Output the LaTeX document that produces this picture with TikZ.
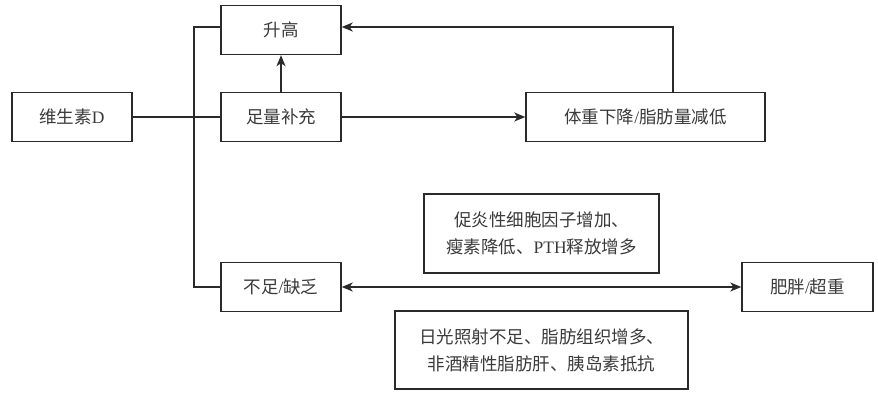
\documentclass[tikz,border=0pt]{standalone}
\usepackage{fontspec}
\setmainfont{Liberation Serif}
\newfontfamily\cjk{Noto Sans CJK SC}[Scale=1]
\newcommand{\lat}[1]{{\rmfamily #1}}
\usetikzlibrary{arrows.meta}
\definecolor{ln}{HTML}{2A2A2A}
\definecolor{tx}{HTML}{3A3A3A}
\tikzset{
  box/.style={draw=ln, line width=1.4pt, minimum height=49pt, inner sep=0pt, font=\cjk\fontsize{17.5}{27}\selectfont, text=tx, align=center},
  conn/.style={draw=ln, line width=1.4pt},
  arr/.style={conn, -{Stealth[length=11pt, width=9pt, inset=3pt]}},
  darr/.style={conn, {Stealth[length=11pt, width=9pt, inset=3pt]}-{Stealth[length=11pt, width=9pt, inset=3pt]}}
}
\begin{document}
\begin{tikzpicture}[x=1pt,y=-1pt]
\useasboundingbox (0,0) rectangle (878,413);
\node[box, minimum width=120pt] (vd) at (72,117) {维生素\lat{D}};
\node[box, minimum width=120pt] (sg) at (281,30) {升高};
\node[box, minimum width=120pt] (zl) at (281,117) {足量补充};
\node[box, minimum width=239pt] (tz) at (645.5,117) {体重下降\lat{/}脂肪量减低};
\node[box, minimum width=120pt] (bz) at (281,287) {不足\lat{/}缺乏};
\node[box, minimum width=131pt] (fp) at (807.5,287) {肥胖\lat{/}超重};
\node[box, minimum width=235pt, minimum height=79pt] (cy) at (541.5,233.5) {促炎性细胞因子增加、\\瘦素降低、\lat{PTH}释放增多};
\node[box, minimum width=293pt, minimum height=78pt] (rg) at (541.5,350) {日光照射不足、脂肪组织增多、\\非酒精性脂肪肝、胰岛素抵抗};
\coordinate (top) at (194,27);
\coordinate (bot) at (194,287);
\draw[conn] (sg.west |- top) -- (top) -- (bot) -- (bz.west);
\draw[conn] (vd.east) -- (zl.west);
\draw[arr] (zl.north) -- (sg.south);
\draw[arr] (zl.east) -- (tz.west);
\draw[arr] (tz.north -| 673,0) -- (673,27) -- (sg.east |- top);
\draw[darr] (bz.east) -- (fp.west);
\end{tikzpicture}
\end{document}
